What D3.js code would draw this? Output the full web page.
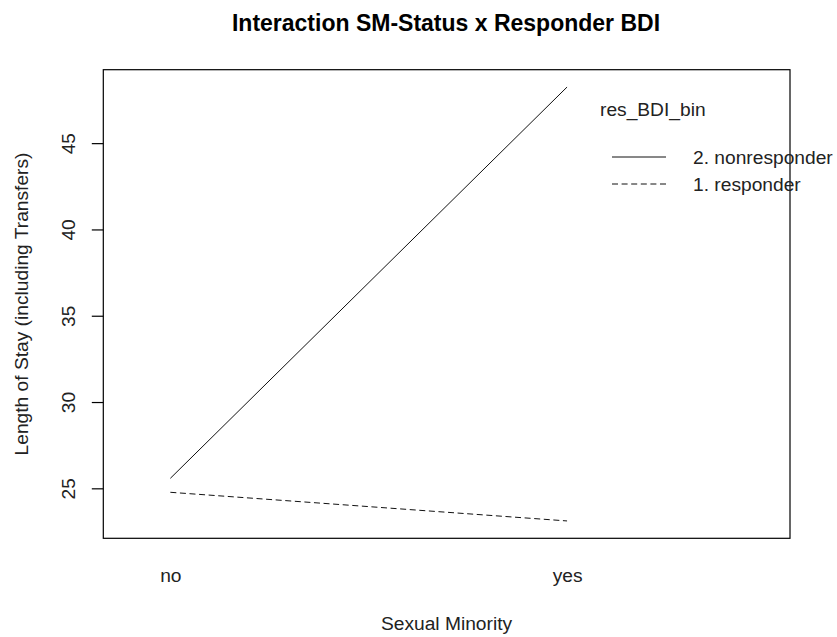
<!DOCTYPE html>
<html>
<head>
<meta charset="utf-8">
<script src="https://cdn.jsdelivr.net/npm/d3@7"></script>
<style>
  html, body { margin: 0; padding: 0; background: #fff; }
  svg { display: block; font-family: "Liberation Sans", Arial, sans-serif; }
</style>
</head>
<body>
<svg id="chart" width="837" height="637"></svg>
<script>
// ---- data ----
const categories = ["no", "yes"];
const seriesNames = ["2. nonresponder", "1. responder"];
const nonresponder = [25.58, 48.25];
const responder = [24.77, 23.11];
const yTicks = [25, 30, 35, 40, 45];

const title = "Interaction SM-Status x Responder BDI";
const xLabel = "Sexual Minority";
const yLabel = "Length of Stay (including Transfers)";
const legendTitle = "res_BDI_bin";

// ---- layout ----
const W = 837, H = 637;
const box = { left: 103.3, right: 790, top: 69.7, bottom: 538.3 };
const fs = 19.2;

const svg = d3.select("#chart");
svg.append("rect").attr("width", W).attr("height", H).attr("fill", "#fff");

// x: categorical positions 1..n in a linear user space
const x = d3.scaleLinear().domain([0.831, 2.562]).range([box.left, box.right]);

const all = nonresponder.concat(responder);
const [mn, mx] = d3.extent(all);
const pad = (mx - mn) * 0.04;
const y = d3.scaleLinear().domain([mn - pad, mx + pad]).range([box.bottom, box.top]);

// box
svg.append("rect")
  .attr("x", box.left).attr("y", box.top)
  .attr("width", box.right - box.left).attr("height", box.bottom - box.top)
  .attr("fill", "none").attr("stroke", "#000").attr("stroke-width", 1.2);

// y axis
const yAxis = d3.axisLeft(y).tickValues(yTicks).tickSize(11.5).tickFormat(d3.format("d"));
const gy = svg.append("g").attr("transform", `translate(${box.left},0)`).call(yAxis);
gy.select(".domain").remove();
gy.selectAll(".tick line").attr("stroke", "#000").attr("stroke-width", 1.2);
gy.selectAll(".tick text").remove();
gy.selectAll(".tick").append("text")
  .attr("transform", "translate(-28.8,0) rotate(-90)")
  .attr("text-anchor", "middle")
  .attr("fill", "#222")
  .style("font-size", fs + "px")
  .text(d => d);

// x axis labels (no tick marks)
const xAxis = d3.axisBottom(x).tickValues(categories.map((c, i) => i + 1))
  .tickSize(0).tickFormat((d, i) => categories[i]);
const gx = svg.append("g").attr("transform", `translate(0,${box.bottom})`).call(xAxis);
gx.select(".domain").remove();
gx.selectAll(".tick text")
  .attr("y", 0).attr("dy", null)
  .attr("transform", "translate(0,43.5)")
  .attr("fill", "#222")
  .style("font-size", fs + "px")
  .style("font-family", '"Liberation Sans", Arial, sans-serif');

// lines
const line = d3.line().x((d, i) => x(i + 1)).y(d => y(d));
svg.append("path").datum(nonresponder).attr("d", line)
  .attr("fill", "none").attr("stroke", "#111").attr("stroke-width", 1);
svg.append("path").datum(responder).attr("d", line)
  .attr("fill", "none").attr("stroke", "#111").attr("stroke-width", 1)
  .attr("stroke-dasharray", "6,3.6");

// title
svg.append("text").attr("x", 446).attr("y", 31)
  .attr("text-anchor", "middle").attr("font-weight", "bold")
  .style("font-size", "23px").attr("fill", "#000").text(title);

// x label
svg.append("text").attr("x", 446.5).attr("y", 630)
  .attr("text-anchor", "middle").style("font-size", fs + "px")
  .attr("fill", "#222").text(xLabel);

// y label
svg.append("text")
  .attr("transform", `translate(28,${(box.top + box.bottom) / 2}) rotate(-90)`)
  .attr("text-anchor", "middle").style("font-size", fs + "px")
  .attr("fill", "#222").text(yLabel);

// legend
svg.append("text").attr("x", 600).attr("y", 116)
  .style("font-size", fs + "px").attr("fill", "#222").text(legendTitle);
const legY = [157, 184];
const dashes = [null, "6,3.6"];
seriesNames.forEach((name, i) => {
  svg.append("line").attr("x1", 612).attr("x2", 666)
    .attr("y1", legY[i]).attr("y2", legY[i])
    .attr("stroke", "#111").attr("stroke-width", 1)
    .attr("stroke-dasharray", dashes[i]);
  svg.append("text").attr("x", 693).attr("y", legY[i] + 7)
    .style("font-size", fs + "px").attr("fill", "#222").text(name);
});
</script>
</body>
</html>
